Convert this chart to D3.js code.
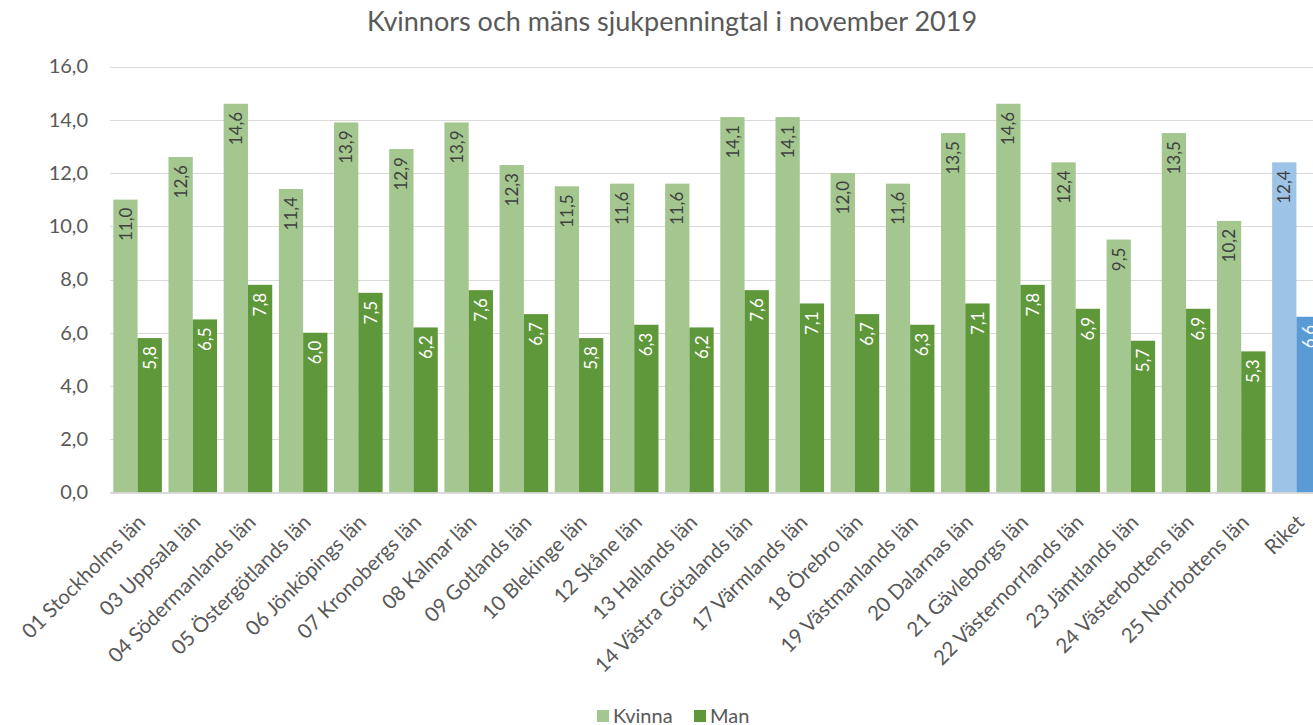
<!DOCTYPE html>
<html>
<head>
<meta charset="utf-8">
<script src="https://cdn.jsdelivr.net/npm/d3@7"></script>
<style>
  body { margin: 0; background: #fff; overflow: hidden; }
  svg { display: block; font-family: Lato, "Open Sans", sans-serif; }
</style>
</head>
<body>
<svg id="chart" width="1313" height="725"></svg>
<script>
// data
var categories = [
  '01 Stockholms län', '03 Uppsala län', '04 Södermanlands län', '05 Östergötlands län',
  '06 Jönköpings län', '07 Kronobergs län', '08 Kalmar län', '09 Gotlands län',
  '10 Blekinge län', '12 Skåne län', '13 Hallands län', '14 Västra Götalands län',
  '17 Värmlands län', '18 Örebro län', '19 Västmanlands län', '20 Dalarnas län',
  '21 Gävleborgs län', '22 Västernorrlands län', '23 Jämtlands län', '24 Västerbottens län',
  '25 Norrbottens län', 'Riket'
];
var kvinna = [11.0, 12.6, 14.6, 11.4, 13.9, 12.9, 13.9, 12.3, 11.5, 11.6, 11.6, 14.1,
  14.1, 12.0, 11.6, 13.5, 14.6, 12.4, 9.5, 13.5, 10.2, 12.4];
var man = [5.8, 6.5, 7.8, 6.0, 7.5, 6.2, 7.6, 6.7, 5.8, 6.3, 6.2, 7.6,
  7.1, 6.7, 6.3, 7.1, 7.8, 6.9, 5.7, 6.9, 5.3, 6.6];
var seriesNames = ['Kvinna', 'Man'];
var yTicks = [0, 2, 4, 6, 8, 10, 12, 14, 16];

var title = 'Kvinnors och mäns sjukpenningtal i november 2019';

var svg = d3.select('#chart');
var plotLeft = 110, plotRight = 1324, plotTop = 66.5, plotBottom = 492.5;

var fmt = function(v) { return d3.format('.1f')(v).replace('.', ','); };

var colors = {
  Kvinna: '#a3c78e', Man: '#5f983a',
  KvinnaRiket: '#9dc3e6', ManRiket: '#5b9bd5'
};

var x = d3.scaleBand().domain(categories).range([plotLeft, plotRight])
  .paddingInner(0.12).paddingOuter(0.06);
var xs = d3.scaleBand().domain(seriesNames).range([0, x.bandwidth()]);
var y = d3.scaleLinear().domain([0, 16]).range([plotBottom, plotTop]);

// title
svg.append('text')
  .attr('x', 672).attr('y', 31)
  .attr('text-anchor', 'middle')
  .attr('fill', '#595959')
  .style('font-size', '27px')
  .text(title);

// gridlines
svg.append('g').selectAll('line').data(yTicks.slice(1)).join('line')
  .attr('x1', plotLeft).attr('x2', plotRight)
  .attr('y1', function(d) { return Math.round(y(d)) + 0.5; })
  .attr('y2', function(d) { return Math.round(y(d)) + 0.5; })
  .attr('stroke', '#d9d9d9').attr('stroke-width', 1.2);

// y axis labels
var yAxis = d3.axisLeft(y).tickValues(yTicks).tickFormat(fmt).tickSize(0).tickPadding(0);
var ya = svg.append('g').attr('transform', 'translate(88,0)').call(yAxis);
ya.select('.domain').remove();
ya.selectAll('text').attr('fill', '#595959').style('font-size', '20px')
  .style('font-family', 'Lato, sans-serif');

// bars
var rows = categories.map(function(c, i) {
  return { cat: c, values: [
    { key: 'Kvinna', v: kvinna[i], cat: c },
    { key: 'Man', v: man[i], cat: c }
  ] };
});

var groups = svg.append('g').selectAll('g').data(rows).join('g')
  .attr('transform', function(d) { return 'translate(' + x(d.cat) + ',0)'; });

groups.selectAll('rect').data(function(d) { return d.values; }).join('rect')
  .attr('x', function(d) { return xs(d.key); })
  .attr('width', xs.bandwidth())
  .attr('y', function(d) { return y(d.v); })
  .attr('height', function(d) { return y(0) - y(d.v); })
  .attr('fill', function(d) { return colors[d.key + (d.cat === 'Riket' ? 'Riket' : '')]; });

groups.selectAll('text').data(function(d) { return d.values; }).join('text')
  .attr('transform', function(d) {
    return 'translate(' + (xs(d.key) + xs.bandwidth() / 2) + ',' + (y(d.v) + 8) + ') rotate(-90)';
  })
  .attr('text-anchor', 'end')
  .attr('dy', '0.36em')
  .attr('fill', function(d) { return d.key === 'Man' ? '#ffffff' : '#404040'; })
  .style('font-size', '17px')
  .text(function(d) { return fmt(d.v); });

// baseline
svg.append('line')
  .attr('x1', plotLeft).attr('x2', plotRight)
  .attr('y1', plotBottom + 0.5).attr('y2', plotBottom + 0.5)
  .attr('stroke', '#d0d0d0').attr('stroke-width', 1.5);

// category labels
var xAxis = d3.axisBottom(x).tickSize(0).tickPadding(0);
var xa = svg.append('g').attr('transform', 'translate(0,' + plotBottom + ')').call(xAxis);
xa.select('.domain').remove();
xa.selectAll('text')
  .attr('fill', '#595959')
  .style('font-size', '20.5px')
  .style('font-family', 'Lato, sans-serif')
  .attr('text-anchor', 'end')
  .attr('dy', '0.35em')
  .attr('transform', 'translate(4,26) rotate(-45)');

// legend
var legend = svg.append('g').attr('transform', 'translate(597,716)');
var litems = legend.selectAll('g').data(seriesNames).join('g')
  .attr('transform', function(d, i) { return 'translate(' + (i * 97) + ',0)'; });
litems.append('rect')
  .attr('x', 0).attr('y', -6).attr('width', 12).attr('height', 12)
  .attr('fill', function(d) { return colors[d]; });
litems.append('text')
  .attr('x', 16).attr('dy', '0.36em')
  .attr('fill', '#595959')
  .style('font-size', '20px')
  .text(function(d) { return d; });
</script>
</body>
</html>
